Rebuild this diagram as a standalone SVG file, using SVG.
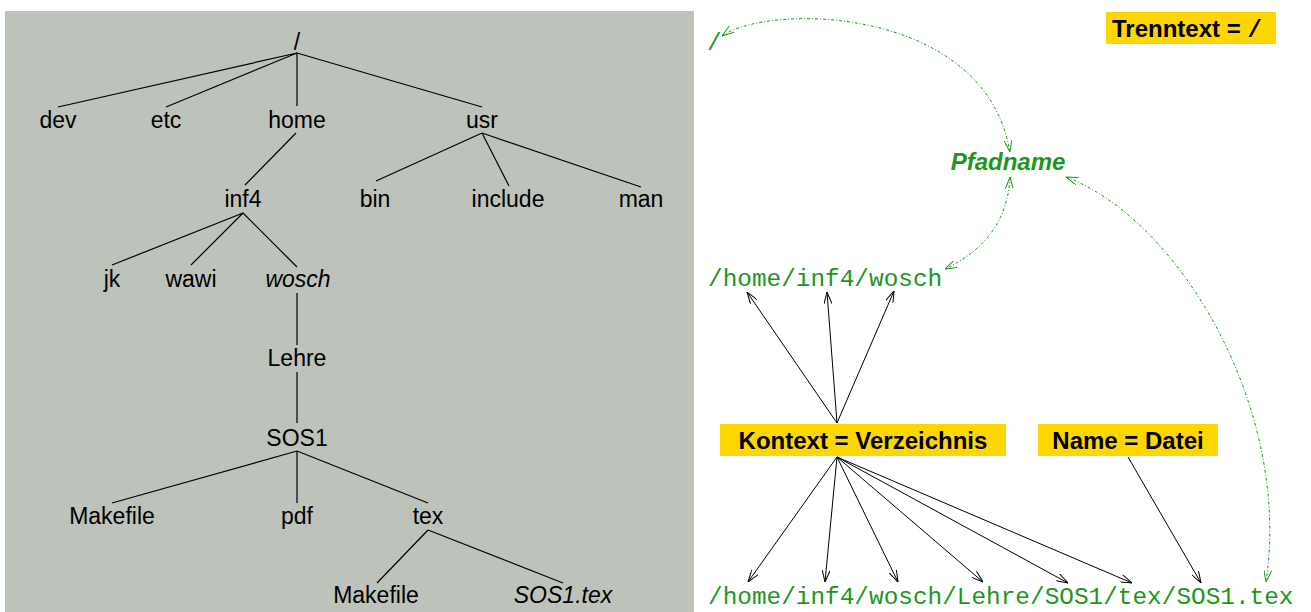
<svg xmlns="http://www.w3.org/2000/svg" width="1311" height="612" viewBox="0 0 1311 612">
<style>
.t{font-family:"Liberation Sans",Arial,sans-serif;font-size:23px;fill:#000;text-anchor:middle}
.it{font-style:italic}
.m{font-family:"Liberation Mono","Courier New",monospace;font-size:24.4px;fill:#1e961e}
.b{font-family:"Liberation Sans",Arial,sans-serif;font-size:24px;font-weight:bold;fill:#000}
.pf{font-family:"Liberation Sans",Arial,sans-serif;font-size:24px;font-weight:bold;font-style:italic;fill:#1e961e;text-anchor:middle}
.box{fill:#ffd700}
.tl{stroke:#000;stroke-width:1.2;fill:none}
.ar{stroke:#000;stroke-width:1;fill:none;marker-end:url(#ah)}
.gr{stroke:#1e961e;stroke-width:1;fill:none;stroke-dasharray:3,2,1,2;marker-start:url(#gh);marker-end:url(#gh)}
</style>
<defs>
<marker id="ah" viewBox="0 0 12 8" refX="12" refY="4" markerWidth="12" markerHeight="8" markerUnits="userSpaceOnUse" orient="auto">
<path d="M0,0 L12,4 L0,8" fill="none" stroke="#000" stroke-width="1"/>
</marker>
<marker id="gh" viewBox="0 0 12 8" refX="12" refY="4" markerWidth="12" markerHeight="8" markerUnits="userSpaceOnUse" orient="auto-start-reverse">
<path d="M0,0 L12,4 L0,8" fill="none" stroke="#1e961e" stroke-width="1"/>
</marker>
</defs>
<rect x="5" y="11" width="689" height="601" fill="#bdc2bb"/>
<g id="tree-edges">
<path class="tl" d="M297,53 L58,107 M297,53 L166,107 M297,53 L297,106 M297,53 L482,107"/>
<path class="tl" d="M296,133 L245,185"/>
<path class="tl" d="M482,133 L376,181 M482,133 L509,186 M482,133 L641,187"/>
<path class="tl" d="M243,213 L112,265 M243,213 L191,265 M243,213 L297,267"/>
<path class="tl" d="M297,293 L297,345 M297,372 L297,423"/>
<path class="tl" d="M297,451 L112,503 M297,451 L297,503 M297,451 L428,503"/>
<path class="tl" d="M428,530 L377,583 M428,530 L563,583"/>
</g>
<g id="n-root"><text class="t" x="297" y="50">/</text></g>
<g id="n-dev"><text class="t" x="58" y="128">dev</text></g>
<g id="n-etc"><text class="t" x="166" y="128">etc</text></g>
<g id="n-home"><text class="t" x="297" y="128">home</text></g>
<g id="n-usr"><text class="t" x="482" y="128">usr</text></g>
<g id="n-inf4"><text class="t" x="243" y="207">inf4</text></g>
<g id="n-bin"><text class="t" x="375" y="207">bin</text></g>
<g id="n-include"><text class="t" x="508" y="207">include</text></g>
<g id="n-man"><text class="t" x="641" y="207">man</text></g>
<g id="n-jk"><text class="t" x="112" y="287">jk</text></g>
<g id="n-wawi"><text class="t" x="191" y="287">wawi</text></g>
<g id="n-wosch"><text class="t it" x="298" y="287">wosch</text></g>
<g id="n-lehre"><text class="t" x="297" y="366">Lehre</text></g>
<g id="n-sos1"><text class="t" x="297" y="446">SOS1</text></g>
<g id="n-makefile1"><text class="t" x="112" y="524">Makefile</text></g>
<g id="n-pdf"><text class="t" x="297" y="524">pdf</text></g>
<g id="n-tex"><text class="t" x="428" y="524">tex</text></g>
<g id="n-makefile2"><text class="t" x="376" y="603">Makefile</text></g>
<g id="n-sos1tex"><text class="t it" x="563" y="603">SOS1.tex</text></g>

<g id="n-slash"><text class="m" x="707" y="50">/</text></g>
<g id="n-trenntext"><rect class="box" x="1106" y="12" width="170" height="32"/><text class="b" x="1112" y="37">Trenntext = <tspan font-family="'Liberation Mono',monospace">/</tspan></text></g>
<g id="n-pfadname"><text class="pf" x="1008" y="170">Pfadname</text></g>
<g id="n-wosch-path"><text class="m" x="708" y="286">/home/inf4/wosch</text></g>
<g id="n-kontext"><rect class="box" x="720" y="424" width="286" height="32"/><text class="b" x="863" y="449" text-anchor="middle">Kontext = Verzeichnis</text></g>
<g id="n-name"><rect class="box" x="1038" y="424" width="180" height="32"/><text class="b" x="1128" y="449" text-anchor="middle">Name = Datei</text></g>
<g id="n-full-path"><text class="m" x="708" y="604">/home/inf4/wosch/Lehre/SOS1/tex/SOS1.tex</text></g>

<g id="connectors">
<path class="ar" d="M837,423 L747,292"/>
<path class="ar" d="M837,423 L827,292"/>
<path class="ar" d="M837,423 L894,291"/>
<path class="ar" d="M837,457 L748,582"/>
<path class="ar" d="M837,457 L825,582"/>
<path class="ar" d="M837,457 L898,582"/>
<path class="ar" d="M837,457 L983,582"/>
<path class="ar" d="M837,457 L1068,583"/>
<path class="ar" d="M837,457 L1132,583"/>
<path class="ar" d="M1128,457 L1201,583"/>
<path class="gr" d="M722,36 C768,3 985,5 1010,152"/>
<path class="gr" d="M1010,177 C1008,220 985,250 945,269"/>
<path class="gr" d="M1066,177 C1180,220 1292,410 1266,582"/>
</g>
</svg>
